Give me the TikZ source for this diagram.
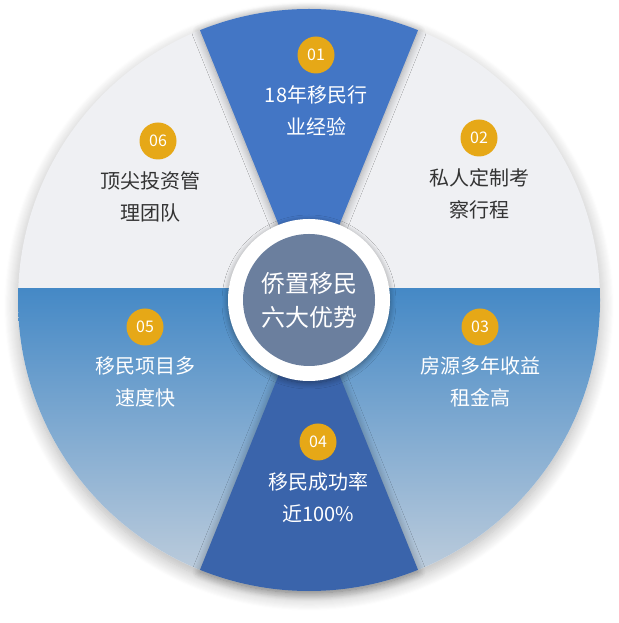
\documentclass[tikz,border=0pt]{standalone}
\usepackage{fontspec}
\setmainfont{Noto Sans CJK SC}
\usetikzlibrary{shadows.blur}
\definecolor{greyreg}{HTML}{EFF0F3}
\definecolor{bandtop}{HTML}{4589C6}
\definecolor{bandbot}{HTML}{C9D3DE}
\definecolor{wedgetop}{HTML}{4376C5}
\definecolor{wedgebot}{HTML}{3A64AB}
\definecolor{inner}{HTML}{6B7F9E}
\definecolor{badge}{HTML}{E6A817}
\definecolor{darktxt}{HTML}{333333}
\begin{document}
\begin{tikzpicture}[x=1pt,y=1pt,
  badgenode/.style={circle,fill=badge,minimum size=37pt,inner sep=0pt,text=white,font=\fontsize{16}{16}\selectfont},
  lblw/.style={text=white,font=\fontsize{20}{32}\selectfont,align=center},
  lbld/.style={text=darktxt,font=\fontsize{20}{32}\selectfont,align=center},
  shad/.style={blur shadow={shadow blur steps=12,shadow xshift=0pt,shadow yshift=-2pt,shadow blur radius=8pt,shadow opacity=35}}]
\useasboundingbox (0,0) rectangle (618,623);
\coordinate (C) at (309,323);
% outer disk with soft shadow
\fill[greyreg,blur shadow={shadow blur steps=14,shadow xshift=0pt,shadow yshift=-6pt,shadow blur radius=14pt,shadow opacity=30}] (C) circle (291);
\begin{scope}
\clip (C) circle (291);
\shade[top color=bandtop,bottom color=bandbot] (0,334) rectangle (618,20);
\end{scope}
% wedges
\fill[wedgetop,shad] (C) -- ++(68:291) arc[start angle=68,end angle=112,radius=291] -- cycle;
\fill[wedgebot,shad] (C) -- ++(248:291) arc[start angle=248,end angle=292,radius=291] -- cycle;
% center
\node[circle,fill=white,minimum size=162pt,inner sep=0pt,blur shadow={shadow blur steps=10,shadow xshift=0pt,shadow yshift=-2pt,shadow blur radius=6pt,shadow opacity=40}] (ring) at (309,323) {};
\node[circle,fill=inner,minimum size=132pt,inner sep=0pt,text=white,align=center,font=\fontsize{24}{34}\selectfont] (core) at (309,323) {侨置移民\\六大优势};
% badges and labels
\node[badgenode] (b1) at (316,568) {01};
\node[lblw] (t1) at (316,512) {18年移民行\\业经验};
\node[badgenode] (b2) at (479,485) {02};
\node[lbld] (t2) at (479,429) {私人定制考\\察行程};
\node[badgenode] (b6) at (158,482) {06};
\node[lbld] (t6) at (150,426) {顶尖投资管\\理团队};
\node[badgenode] (b5) at (145,296) {05};
\node[lblw] (t5) at (145,241) {移民项目多\\速度快};
\node[badgenode] (b3) at (480,296) {03};
\node[lblw] (t3) at (480,241) {房源多年收益\\租金高};
\node[badgenode] (b4) at (318,181) {04};
\node[lblw] (t4) at (318,125) {移民成功率\\近100\%};
\end{tikzpicture}
\end{document}
